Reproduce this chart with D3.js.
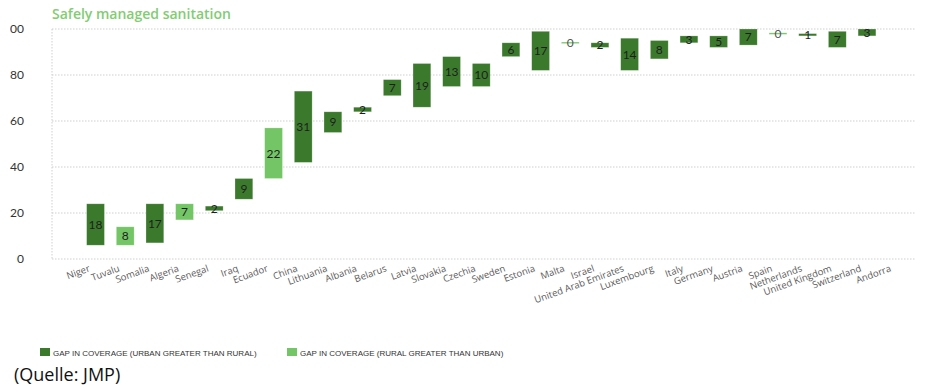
<!DOCTYPE html>
<html>
<head>
    <meta charset="utf-8">
    <style>
        body { margin: 0; background: #fff; }
        svg { display: block; }
        .title { font: 600 14px "Open Sans", sans-serif; fill: #82cc72; }
        .ytick { font: 12px "Lato", sans-serif; fill: #333; }
        .xtick { font: 9.5px "Open Sans", sans-serif; fill: #5a5a5a; }
        .val { font: 12px "Lato", sans-serif; fill: #1e1e1e; }
        .legend { font: 8px "Liberation Sans", sans-serif; fill: #333; }
        .source { font: 18px "Open Sans", sans-serif; fill: #111; }
    </style>
</head>
<body>
    <svg width="928" height="392"></svg>

    <script src="https://cdn.jsdelivr.net/npm/d3@7"></script>

    <script>
        var countries = ["Niger", "Tuvalu", "Somalia", "Algeria", "Senegal", "Iraq", "Ecuador", "China",
            "Lithuania", "Albania", "Belarus", "Latvia", "Slovakia", "Czechia", "Sweden", "Estonia",
            "Malta", "Israel", "United Arab Emirates", "Luxembourg", "Italy", "Germany", "Austria",
            "Spain", "Netherlands", "United Kingdom", "Switzerland", "Andorra"];
        // lower and upper end of the urban/rural coverage gap (%)
        var lower = [6, 6, 7, 17, 21, 26, 35, 42, 55, 64, 71, 66, 75, 75, 88, 82,
            94, 92, 82, 87, 94, 92, 93, 98, 97, 92, 97, null];
        var upper = [24, 14, 24, 24, 23, 35, 57, 73, 64, 66, 78, 85, 88, 85, 94, 99,
            94, 94, 96, 95, 97, 97, 100, 98, 98, 99, 100, null];
        // "u" = urban greater than rural, "r" = rural greater than urban
        var gapType = ["u", "r", "u", "r", "u", "u", "r", "u", "u", "u", "u", "u", "u", "u", "u", "u",
            "r", "u", "u", "u", "u", "u", "u", "r", "u", "u", "u", null];
        var yTicks = [0, 20, 40, 60, 80, 100];
        var legendLabels = ["GAP IN COVERAGE (URBAN GREATER THAN RURAL)", "GAP IN COVERAGE (RURAL GREATER THAN URBAN)"];

        var colors = { u: "#3b7a2d", r: "#74c566" };

        var svg = d3.select("svg");
        var data = countries.map(function(c, i) {
            return { name: c, lo: lower[i], hi: upper[i], type: gapType[i] };
        });

        // the source image is cropped on the left, cutting off the "1" of 100
        svg.append("clipPath").attr("id", "crop")
            .append("rect").attr("x", 10).attr("y", 0).attr("width", 918).attr("height", 392);
        var root = svg.append("g").attr("clip-path", "url(#crop)");

        var x = d3.scaleBand()
            .domain(countries)
            .range([80.7, 911.5])
            .paddingInner(0.4)
            .paddingOuter(0.2);
        var y = d3.scaleLinear().domain([0, 100]).range([259, 29]);

        root.append("text").attr("class", "title")
            .attr("x", 52).attr("y", 19)
            .text("Safely managed sanitation");

        // grid
        root.selectAll(".grid").data(yTicks).enter().append("line")
            .attr("x1", 52).attr("x2", 915)
            .attr("y1", function(d) { return y(d); })
            .attr("y2", function(d) { return y(d); })
            .attr("stroke", "#cfcfcf")
            .attr("stroke-dasharray", "1.5,1.5");
        root.append("line")
            .attr("x1", 52).attr("x2", 52)
            .attr("y1", y(100)).attr("y2", y(0))
            .attr("stroke", "#cfcfcf")
            .attr("stroke-dasharray", "1.5,1.5");

        root.selectAll(".ytick").data(yTicks).enter().append("text")
            .attr("class", "ytick")
            .attr("x", 24)
            .attr("y", function(d) { return y(d); })
            .attr("dy", "0.35em")
            .attr("text-anchor", "end")
            .text(function(d) { return d; });

        var withData = data.filter(function(d) { return d.lo != null; });

        root.selectAll(".bar").data(withData).enter().append("rect")
            .attr("x", function(d) { return x(d.name); })
            .attr("width", x.bandwidth())
            .attr("y", function(d) { return d.hi === d.lo ? y(d.hi) - 0.75 : y(d.hi); })
            .attr("height", function(d) { return Math.max(1.5, y(d.lo) - y(d.hi)); })
            .attr("fill", function(d) { return colors[d.type]; })
            .attr("stroke", "#fff")
            .attr("stroke-opacity", 0.4)
            .attr("stroke-width", 0.6);

        root.selectAll(".val").data(withData).enter().append("text")
            .attr("class", "val")
            .attr("x", function(d) { return x(d.name) + x.bandwidth() / 2; })
            .attr("y", function(d) { return (y(d.hi) + y(d.lo)) / 2; })
            .attr("dy", "0.36em")
            .attr("text-anchor", "middle")
            .style("fill", function(d) { return d.hi === d.lo ? "#555" : null; })
            .text(function(d) { return d.hi - d.lo; });

        root.selectAll(".xtick").data(countries).enter().append("text")
            .attr("class", "xtick")
            .attr("text-anchor", "end")
            .attr("transform", function(d) {
                return "translate(" + (x(d) + x.bandwidth() / 2 - 5) + ",271) rotate(-20)";
            })
            .text(function(d) { return d; });

        // legend
        var leg = root.selectAll(".leg").data(legendLabels).enter().append("g")
            .attr("transform", function(d, i) { return "translate(" + (40 + i * 247) + ",348)"; });
        leg.append("rect")
            .attr("width", 10).attr("height", 8)
            .attr("fill", function(d, i) { return i === 0 ? colors.u : colors.r; });
        leg.append("text").attr("class", "legend")
            .attr("x", 13).attr("y", 7.5)
            .text(function(d) { return d; });

        root.append("text").attr("class", "source")
            .attr("x", 14).attr("y", 381)
            .text("(Quelle: JMP)");
    </script>
</body>
</html>
